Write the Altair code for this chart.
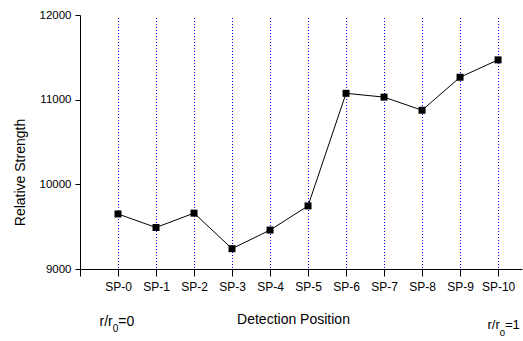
import altair as alt
import pandas as pd

# Detection positions along the radius and the measured relative strength
positions = ["SP-0", "SP-1", "SP-2", "SP-3", "SP-4", "SP-5",
             "SP-6", "SP-7", "SP-8", "SP-9", "SP-10"]
position_index = list(range(11))
strength = [9650, 9490, 9660, 9240, 9460, 9745,
            11075, 11030, 10875, 11265, 11470]
y_ticks = [9000, 10000, 11000, 12000]
x_ticks = [-1] + position_index

df = pd.DataFrame({"idx": position_index, "pos": positions, "strength": strength})

FONT = "Liberation Sans"
W, H = 442, 254

x_scale = alt.Scale(domain=[-1, 10.63], nice=False, zero=False)
y_scale = alt.Scale(domain=[9000, 12000], nice=False, zero=False)

x_enc = alt.X(
    "idx:Q",
    scale=x_scale,
    axis=alt.Axis(
        values=x_ticks,
        labelExpr="datum.value < 0 ? '' : 'SP-' + datum.value",
        title="Detection Position",
        titleFont=FONT, titleFontSize=14, titleFontWeight="normal", titleColor="black",
        titleX=213, titleY=50, titleBaseline="middle",
        labelFont=FONT, labelFontSize=12, labelColor="black",
        labelPadding=5, tickSize=7, tickColor="black", tickWidth=1,
        domain=True, domainColor="black", domainWidth=1,
        ticks=True, grid=False, labelFlush=False,
    ),
)
y_enc = alt.Y(
    "strength:Q",
    scale=y_scale,
    axis=alt.Axis(
        values=y_ticks,
        format="d",
        title="Relative Strength",
        titleFont=FONT, titleFontSize=14, titleFontWeight="normal", titleColor="black",
        titleX=-60, titleY=157, titleBaseline="middle", titleAlign="center",
        labelFont=FONT, labelFontSize=11.5, labelColor="black",
        labelPadding=4, tickSize=5, tickColor="black", tickWidth=1,
        domain=True, domainColor="black", domainWidth=1,
        ticks=True, grid=False,
    ),
)

base = alt.Chart(df)

# dotted blue guide at every detection position
guides = base.mark_rule(color="#0000ff", strokeWidth=1, strokeDash=[1, 2], xOffset=0.5).encode(
    x=x_enc,
    y=alt.value(3),
    y2=alt.value(H),
)

line = base.mark_line(color="black", strokeWidth=1).encode(x=x_enc, y=y_enc)

points = base.mark_point(shape="square", filled=True, color="black", size=49, opacity=1).encode(
    x=x_enc, y=y_enc,
)

one = pd.DataFrame({"k": [0]})


def label(text, x, y, size, baseline="middle"):
    return alt.Chart(one).mark_text(
        text=text, font=FONT, fontSize=size, color="black",
        align="left", baseline=baseline,
    ).encode(x=alt.value(x), y=alt.value(y))


# radius ratio markers at both ends of the position axis
r_start = (
    label("r/r", 19.5, 306.5, 14)
    + label("0", 32.7, 314, 10)
    + label("=0", 38.3, 306.5, 14)
)
r_end = (
    label("r/r", 407.5, 310, 13)
    + label("0", 419.8, 317.5, 9.5)
    + label("=1", 425, 310, 13)
)

chart = (
    alt.layer(guides, line, points, r_start, r_end)
    .properties(
        width=W, height=H,
        autosize=alt.AutoSizeParams(type="none"),
        padding={"left": 80, "top": 15, "right": 1, "bottom": 72},
        background="white",
    )
    .configure_view(stroke=None)
)

chart.save("out.html", embed_options={"renderer": "svg", "actions": False})
